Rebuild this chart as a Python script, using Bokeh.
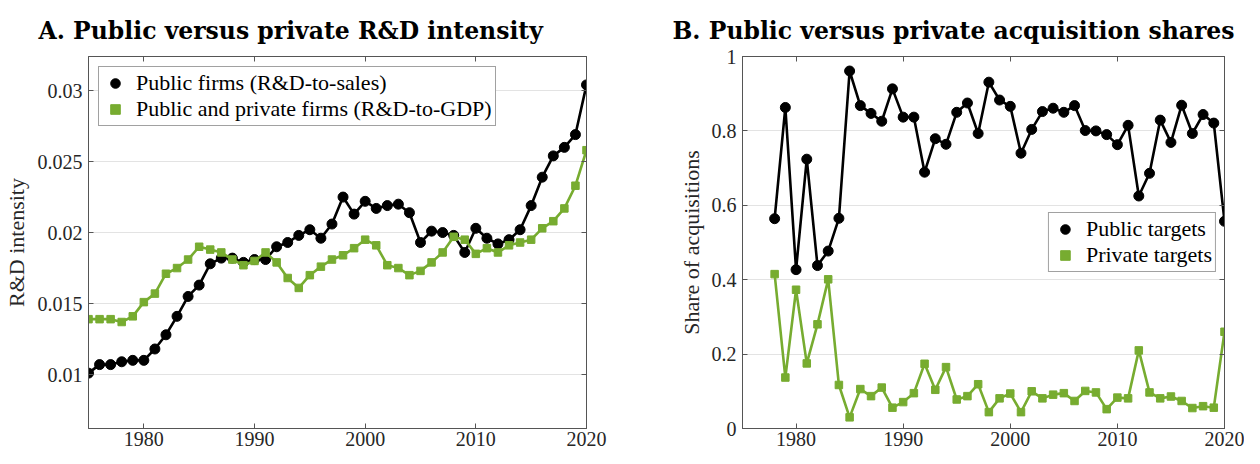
from bokeh.plotting import figure
from bokeh.models import (Range1d, FixedTicker, LinearAxis, Legend, LegendItem,
                          CustomJSTickFormatter, CustomLabelingPolicy)
from bokeh.layouts import row
from bokeh.embed import file_html
from bokeh.resources import INLINE

# ---------------- data ----------------
years_a = list(range(1975, 2021))
public_rd_sales = [0.0101, 0.0107, 0.0107, 0.0109, 0.0110, 0.0110, 0.0118, 0.0128, 0.0141, 0.0155,
                   0.0163, 0.0178, 0.0182, 0.0182, 0.0179, 0.0181, 0.0181, 0.0190, 0.0193, 0.0198,
                   0.0202, 0.0196, 0.0206, 0.0225, 0.0213, 0.0222, 0.0217, 0.0219, 0.0220, 0.0214,
                   0.0193, 0.0201, 0.0200, 0.0198, 0.0186, 0.0203, 0.0196, 0.0192, 0.0195, 0.0202,
                   0.0219, 0.0239, 0.0254, 0.0260, 0.0269, 0.0304]
all_rd_gdp = [0.0139, 0.0139, 0.0139, 0.0137, 0.0141, 0.0151, 0.0157, 0.0171, 0.0175, 0.0181,
              0.0190, 0.0188, 0.0186, 0.0181, 0.0177, 0.0180, 0.0186, 0.0179, 0.0168, 0.0161,
              0.0170, 0.0176, 0.0181, 0.0184, 0.0189, 0.0195, 0.0191, 0.0177, 0.0175, 0.0170,
              0.0173, 0.0179, 0.0186, 0.0197, 0.0195, 0.0185, 0.0189, 0.0186, 0.0191, 0.0193,
              0.0195, 0.0203, 0.0208, 0.0217, 0.0233, 0.0258]

years_b = list(range(1978, 2021))
public_targets = [0.564, 0.863, 0.427, 0.724, 0.438, 0.477, 0.565, 0.961, 0.868, 0.847,
                  0.826, 0.913, 0.837, 0.837, 0.689, 0.779, 0.764, 0.850, 0.875, 0.793,
                  0.931, 0.883, 0.866, 0.740, 0.804, 0.852, 0.861, 0.850, 0.868, 0.801,
                  0.800, 0.790, 0.763, 0.815, 0.625, 0.686, 0.829, 0.769, 0.869, 0.793,
                  0.844, 0.821, 0.557]
private_targets = [0.415, 0.137, 0.373, 0.175, 0.280, 0.401, 0.117, 0.030, 0.106, 0.087,
                   0.110, 0.056, 0.071, 0.095, 0.174, 0.104, 0.165, 0.078, 0.087, 0.119,
                   0.044, 0.081, 0.094, 0.044, 0.100, 0.081, 0.091, 0.095, 0.074, 0.101,
                   0.097, 0.052, 0.083, 0.081, 0.210, 0.097, 0.081, 0.086, 0.074, 0.055,
                   0.060, 0.056, 0.260]

x_ticks = [1980, 1990, 2000, 2010, 2020]
y_ticks_a = [0.01, 0.015, 0.02, 0.025, 0.03]
y_ticks_b = [0, 0.2, 0.4, 0.6, 0.8, 1]

title_a = "A. Public versus private R&D intensity"
title_b = "B. Public versus private acquisition shares"
ylabel_a = "R&D intensity"
ylabel_b = "Share of acquisitions"
legend_a = ["Public firms (R&D-to-sales)", "Public and private firms (R&D-to-GDP)"]
legend_b = ["Public targets", "Private targets"]

# ---------------- style ----------------
FONT = "Liberation Serif"
TITLE_FONT = "DejaVu Serif"
BLACK = "#000000"
GREEN = "#77AC30"
AXIS = "#555555"
TXT = "#262626"
H = 448

fmt = CustomJSTickFormatter(code="return tick.toString();")
no_labels = CustomLabelingPolicy(code="return new Set();")


def style_axis(ax, ticks, show_labels=True, standoff=5):
    ax.ticker = FixedTicker(ticks=ticks)
    ax.formatter = fmt
    ax.axis_line_color = AXIS
    ax.axis_line_width = 1
    ax.major_tick_line_color = AXIS
    ax.major_tick_in = 5
    ax.major_tick_out = 0
    ax.minor_tick_line_color = None
    ax.major_label_text_font = FONT
    ax.major_label_text_font_size = "20px"
    ax.major_label_text_color = TXT
    ax.major_label_standoff = standoff
    if not show_labels:
        ax.major_label_policy = no_labels
        ax.major_label_text_font_size = "0px"
        ax.major_label_standoff = 0
    ax.axis_label_text_font = FONT
    ax.axis_label_text_font_size = "22px"
    ax.axis_label_text_font_style = "normal"
    ax.axis_label_text_color = TXT


def make_fig(width, bl, br, yr, yticks, title, title_offset, ylabel, ylabel_standoff):
    p = figure(width=width, height=H, x_range=Range1d(1975, 2020), y_range=yr,
               output_backend="svg", toolbar_location=None,
               min_border_left=bl, min_border_right=br, min_border_top=56, min_border_bottom=10)
    p.outline_line_color = AXIS
    p.background_fill_color = "white"
    p.border_fill_color = "white"
    p.title.text = title
    p.title.text_font = TITLE_FONT
    p.title.text_font_size = "23.5px"
    p.title.text_font_style = "bold"
    p.title.text_color = "#000000"
    p.title.align = "left"
    p.title.vertical_align = "top"
    p.title.offset = title_offset
    p.title.standoff = 20
    p.xgrid.grid_line_color = None
    p.ygrid.grid_line_color = "#e3e3e3"
    p.ygrid.grid_line_width = 1
    p.ygrid.ticker = FixedTicker(ticks=yticks)
    style_axis(p.xaxis[0], x_ticks, standoff=3)
    style_axis(p.yaxis[0], yticks, standoff=6)
    p.yaxis[0].axis_label = ylabel
    p.yaxis[0].axis_label_standoff = ylabel_standoff
    top = LinearAxis()
    style_axis(top, x_ticks, show_labels=False)
    p.add_layout(top, "above")
    right = LinearAxis()
    style_axis(right, yticks, show_labels=False)
    p.add_layout(right, "right")
    return p


def series(p, x, y, color, marker, size):
    p.line(x, y, line_color=color, line_width=2.6)
    return p.scatter(x, y, marker=marker, size=size, fill_color=color, line_color=color)


def style_legend(lg):
    lg.label_text_font = FONT
    lg.label_text_font_size = "22px"
    lg.label_text_color = "#000000"
    lg.border_line_color = "#444444"
    lg.border_line_width = 1
    lg.background_fill_alpha = 1
    lg.padding = 3
    lg.spacing = 0
    lg.label_height = 24
    lg.glyph_height = 24
    lg.glyph_width = 26
    lg.label_standoff = 8


# ---------- Panel A ----------
pa = make_fig(622, 88, 36, Range1d(0.0062, 0.0324), y_ticks_a, title_a, -50, ylabel_a, 6)
ra1 = series(pa, years_a, public_rd_sales, BLACK, "circle", 10)
ra2 = series(pa, years_a, all_rd_gdp, GREEN, "square", 7.5)
lga = Legend(items=[LegendItem(label=legend_a[0], renderers=[ra1]),
                    LegendItem(label=legend_a[1], renderers=[ra2])],
             location="top_left", margin=10)
style_legend(lga)
pa.add_layout(lga)

# ---------- Panel B ----------
pb = make_fig(622, 120, 20, Range1d(0, 1), y_ticks_b, title_b, -70, ylabel_b, 5)
rb1 = series(pb, years_b, public_targets, BLACK, "circle", 10)
rb2 = series(pb, years_b, private_targets, GREEN, "square", 7.5)
lgb = Legend(items=[LegendItem(label=legend_b[0], renderers=[rb1]),
                    LegendItem(label=legend_b[1], renderers=[rb2])],
             location="right", margin=8)
style_legend(lgb)
pb.add_layout(lgb)

layout = row(pa, pb)
open("out.html", "w").write(file_html(layout, INLINE))
